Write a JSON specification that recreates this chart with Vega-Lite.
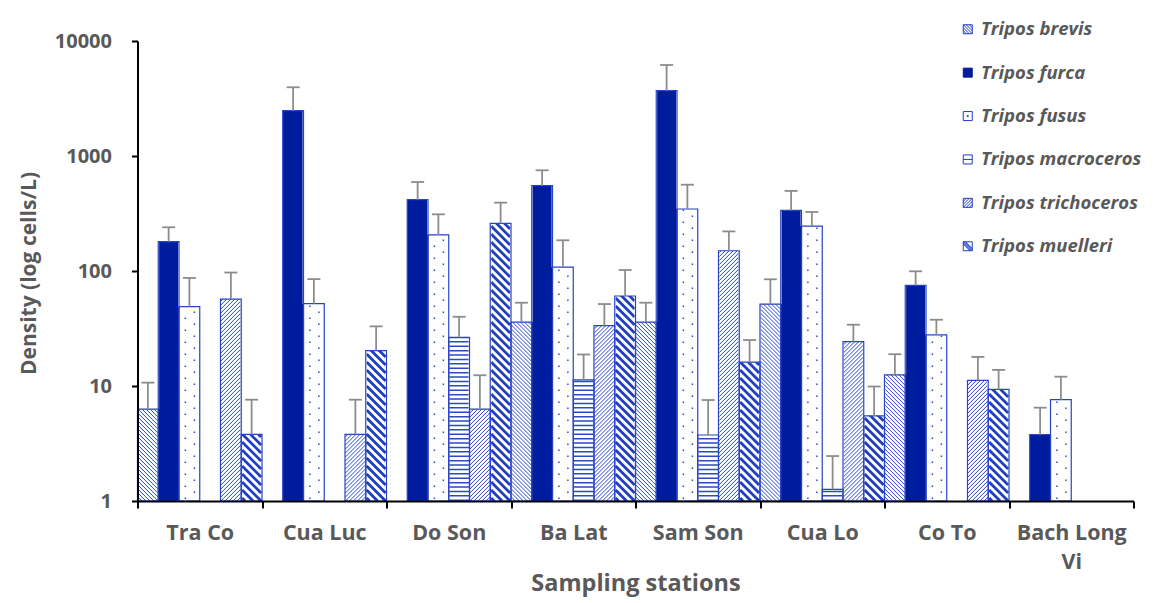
{
  "$schema": "https://vega.github.io/schema/vega-lite/v6.json",
  "autosize": {"type": "none"},
  "padding": {"left": 137.5, "top": 41, "right": 25.5, "bottom": 102},
  "width": 996,
  "height": 460,
  "background": "white",
  "config": {
    "view": {"stroke": null},
    "axis": {"domainColor": "#000000", "domainWidth": 2, "tickColor": "#000000", "tickWidth": 2, "labelColor": "#595959", "labelFont": "Open Sans", "labelFontWeight": "bold", "titleColor": "#595959", "titleFont": "Open Sans", "titleFontWeight": "bold", "grid": false}
  },
  "data": {"values": [
    {"station": "Tra Co", "species": "Tripos brevis", "value": 6.3, "upper": 10.7},
    {"station": "Tra Co", "species": "Tripos furca", "value": 180, "upper": 240},
    {"station": "Tra Co", "species": "Tripos fusus", "value": 49, "upper": 87},
    {"station": "Tra Co", "species": "Tripos trichoceros", "value": 57, "upper": 97},
    {"station": "Tra Co", "species": "Tripos muelleri", "value": 3.8, "upper": 7.6},
    {"station": "Cua Luc", "species": "Tripos furca", "value": 2480, "upper": 3960},
    {"station": "Cua Luc", "species": "Tripos fusus", "value": 52, "upper": 85},
    {"station": "Cua Luc", "species": "Tripos trichoceros", "value": 3.8, "upper": 7.6},
    {"station": "Cua Luc", "species": "Tripos muelleri", "value": 20.3, "upper": 33},
    {"station": "Do Son", "species": "Tripos furca", "value": 417, "upper": 594},
    {"station": "Do Son", "species": "Tripos fusus", "value": 206, "upper": 311},
    {"station": "Do Son", "species": "Tripos macroceros", "value": 26.5, "upper": 40},
    {"station": "Do Son", "species": "Tripos trichoceros", "value": 6.3, "upper": 12.4},
    {"station": "Do Son", "species": "Tripos muelleri", "value": 260, "upper": 393},
    {"station": "Ba Lat", "species": "Tripos brevis", "value": 36, "upper": 53},
    {"station": "Ba Lat", "species": "Tripos furca", "value": 552, "upper": 751},
    {"station": "Ba Lat", "species": "Tripos fusus", "value": 108, "upper": 185},
    {"station": "Ba Lat", "species": "Tripos macroceros", "value": 11.3, "upper": 18.8},
    {"station": "Ba Lat", "species": "Tripos trichoceros", "value": 33.5, "upper": 51.6},
    {"station": "Ba Lat", "species": "Tripos muelleri", "value": 60.6, "upper": 102},
    {"station": "Sam Son", "species": "Tripos brevis", "value": 36, "upper": 53},
    {"station": "Sam Son", "species": "Tripos furca", "value": 3700, "upper": 6185},
    {"station": "Sam Son", "species": "Tripos fusus", "value": 346, "upper": 563},
    {"station": "Sam Son", "species": "Tripos macroceros", "value": 3.75, "upper": 7.55},
    {"station": "Sam Son", "species": "Tripos trichoceros", "value": 150, "upper": 221},
    {"station": "Sam Son", "species": "Tripos muelleri", "value": 16.1, "upper": 25.1},
    {"station": "Cua Lo", "species": "Tripos brevis", "value": 51.6, "upper": 84.7},
    {"station": "Cua Lo", "species": "Tripos furca", "value": 337, "upper": 497},
    {"station": "Cua Lo", "species": "Tripos fusus", "value": 246, "upper": 326},
    {"station": "Cua Lo", "species": "Tripos macroceros", "value": 1.26, "upper": 2.46},
    {"station": "Cua Lo", "species": "Tripos trichoceros", "value": 24.3, "upper": 34.1},
    {"station": "Cua Lo", "species": "Tripos muelleri", "value": 5.5, "upper": 9.9},
    {"station": "Co To", "species": "Tripos brevis", "value": 12.5, "upper": 18.9},
    {"station": "Co To", "species": "Tripos furca", "value": 75, "upper": 99.4},
    {"station": "Co To", "species": "Tripos fusus", "value": 27.8, "upper": 37.7},
    {"station": "Co To", "species": "Tripos trichoceros", "value": 11.2, "upper": 17.9},
    {"station": "Co To", "species": "Tripos muelleri", "value": 9.36, "upper": 13.8},
    {"station": "Bach Long Vi", "species": "Tripos furca", "value": 3.77, "upper": 6.48},
    {"station": "Bach Long Vi", "species": "Tripos fusus", "value": 7.6, "upper": 12.05}
  ]},
  "encoding": {
    "x": {"field": "station", "type": "nominal",
      "sort": ["Tra Co", "Cua Luc", "Do Son", "Ba Lat", "Sam Son", "Cua Lo", "Co To", "Bach Long Vi"],
      "scale": {"domain": ["Tra Co", "Cua Luc", "Do Son", "Ba Lat", "Sam Son", "Cua Lo", "Co To", "Bach Long Vi"], "paddingInner": 0, "paddingOuter": 0},
      "axis": {"title": "Sampling stations", "zindex": 1, "tickBand": "extent", "tickSize": 7, "labelFontSize": 21.5, "labelPadding": 14, "labelAngle": 0, "labelLineHeight": 29,
        "labelExpr": "datum.label === 'Bach Long Vi' ? ['Bach Long', 'Vi'] : datum.label",
        "titleFontSize": 23.5, "titleY": 82, "titleBaseline": "middle"}},
    "xOffset": {"field": "species", "type": "nominal",
      "scale": {"domain": ["Tripos brevis", "Tripos furca", "Tripos fusus", "Tripos macroceros", "Tripos trichoceros", "Tripos muelleri"], "paddingInner": 0, "paddingOuter": 0}}
  },
  "layer": [
    {
      "mark": {"type": "bar", "strokeWidth": 0},
      "encoding": {
        "y": {"field": "value", "type": "quantitative",
          "scale": {"type": "log", "domain": [1, 10000], "nice": false},
          "axis": {"title": "Density (log cells/L)", "zindex": 1, "values": [1, 10, 100, 1000, 10000], "format": "d", "tickSize": 6, "labelFontSize": 20, "labelPadding": 20,
            "titleFontSize": 21, "titleX": -108, "titleY": 232, "titleAngle": 270, "titleBaseline": "middle", "titleAlign": "center"}},
        "y2": {"datum": 1},
        "fill": {"condition": {"test": "datum.species === 'Tripos furca'", "value": "#001C9E"}, "value": "#FFFFFF"}
      }
    },
    {
      "transform": [{"filter": "datum.species === 'Tripos brevis'"}],
      "mark": {"type": "point", "filled": false, "opacity": 1, "size": 4, "stroke": "#2A48C8", "strokeWidth": 1,
        "shape": "M-10,-16L6,0M-10,-12L2,0M-10,-8L-2,0M-10,-4L-6,0M-10,-20l20,20m-20,-24l20,20m-20,-24l20,20m-20,-24l20,20m-20,-24l20,20m-20,-24l20,20m-20,-24l20,20m-20,-24l20,20m-20,-24l20,20m-20,-24l20,20m-20,-24l20,20m-20,-24l20,20m-20,-24l20,20m-20,-24l20,20m-20,-24l20,20m-20,-24l20,20m-20,-24l20,20m-20,-24l20,20m-20,-24l20,20m-20,-24l20,20m-20,-24l20,20m-20,-24l20,20m-20,-24l20,20m-20,-24l20,20m-20,-24l20,20m-20,-24l20,20m-20,-24l20,20m-20,-24l20,20m-20,-24l20,20m-20,-24l20,20m-20,-24l20,20m-20,-24l20,20m-20,-24l20,20m-20,-24l20,20m-20,-24l20,20m-20,-24l20,20m-20,-24l20,20m-20,-24l20,20m-20,-24l20,20m-20,-24l20,20m-20,-24l20,20m-20,-24l20,20m-20,-24l20,20m-20,-24l20,20m-20,-24l20,20m-20,-24l20,20m-20,-24l20,20m-20,-24l20,20m-20,-24l20,20m-20,-24l20,20m-20,-24l20,20"},
      "encoding": {"y": {"datum": 1}}
    },
    {
      "transform": [{"filter": "datum.species === 'Tripos trichoceros'"}],
      "mark": {"type": "point", "filled": false, "opacity": 1, "size": 4, "stroke": "#2A48C8", "strokeWidth": 1,
        "shape": "M-6,0L10,-16M-2,0L10,-12M2,0L10,-8M6,0L10,-4M-10,0l20,-20m-20,16l20,-20m-20,16l20,-20m-20,16l20,-20m-20,16l20,-20m-20,16l20,-20m-20,16l20,-20m-20,16l20,-20m-20,16l20,-20m-20,16l20,-20m-20,16l20,-20m-20,16l20,-20m-20,16l20,-20m-20,16l20,-20m-20,16l20,-20m-20,16l20,-20m-20,16l20,-20m-20,16l20,-20m-20,16l20,-20m-20,16l20,-20m-20,16l20,-20m-20,16l20,-20m-20,16l20,-20m-20,16l20,-20m-20,16l20,-20m-20,16l20,-20m-20,16l20,-20m-20,16l20,-20m-20,16l20,-20m-20,16l20,-20m-20,16l20,-20m-20,16l20,-20m-20,16l20,-20m-20,16l20,-20m-20,16l20,-20m-20,16l20,-20m-20,16l20,-20m-20,16l20,-20m-20,16l20,-20m-20,16l20,-20m-20,16l20,-20m-20,16l20,-20m-20,16l20,-20m-20,16l20,-20m-20,16l20,-20m-20,16l20,-20m-20,16l20,-20m-20,16l20,-20m-20,16l20,-20m-20,16l20,-20m-20,16l20,-20m-20,16l20,-20m-20,16l20,-20m-20,16l20,-20m-20,16l20,-20m-20,16l20,-20m-20,16l20,-20m-20,16l20,-20m-20,16l20,-20m-20,16l20,-20m-20,16l20,-20m-20,16l20,-20m-20,16l20,-20m-20,16l20,-20"},
      "encoding": {"y": {"datum": 1}}
    },
    {
      "transform": [{"filter": "datum.species === 'Tripos muelleri'"}],
      "mark": {"type": "point", "filled": false, "opacity": 1, "size": 4, "stroke": "#1F3FC0", "strokeWidth": 2.8,
        "shape": "M-9.5,-11L1.5,0M-9.5,-3L-6.5,0M-9.5,-19l19,19m-19,-27l19,19m-19,-27l19,19m-19,-27l19,19m-19,-27l19,19m-19,-27l19,19m-19,-27l19,19m-19,-27l19,19m-19,-27l19,19m-19,-27l19,19m-19,-27l19,19m-19,-27l19,19m-19,-27l19,19m-19,-27l19,19m-19,-27l19,19m-19,-27l19,19m-19,-27l19,19m-19,-27l19,19m-19,-27l19,19m-19,-27l19,19m-19,-27l19,19m-19,-27l19,19m-19,-27l19,19m-19,-27l19,19m-19,-27l19,19m-19,-27l19,19m-19,-27l19,19m-19,-27l19,19m-19,-27l19,19m-19,-27l19,19m-19,-27l19,19m-19,-27l19,19m-19,-27l19,19m-19,-27l19,19m-19,-27l19,19m-19,-27l19,19"},
      "encoding": {"y": {"datum": 1}}
    },
    {
      "transform": [{"filter": "datum.species === 'Tripos macroceros'"}],
      "mark": {"type": "point", "filled": false, "opacity": 1, "size": 4, "stroke": "#2A48C8", "strokeWidth": 19.6, "strokeDash": [1.5, 2.9], "strokeCap": "butt",
        "shape": "M0,0V-175"},
      "encoding": {"y": {"datum": 1}}
    },
    {
      "transform": [{"filter": "datum.species === 'Tripos fusus'"}],
      "mark": {"type": "point", "filled": false, "opacity": 1, "size": 4, "stroke": "#2B4BD0", "strokeWidth": 1.5, "strokeDash": [1.5, 10.5], "strokeCap": "butt",
        "shape": "M-4,-2V-300M5,-8V-300"},
      "encoding": {"y": {"datum": 1}}
    },
    {
      "transform": [{"filter": "datum.species !== 'Tripos furca'"}],
      "mark": {"type": "bar", "fill": "white", "strokeWidth": 0, "width": 22.5},
      "encoding": {"y": {"field": "value", "type": "quantitative"}, "y2": {"datum": 10000}}
    },
    {
      "mark": {"type": "bar", "filled": false, "stroke": "#2742C4", "strokeWidth": 1.2},
      "encoding": {"y": {"field": "value", "type": "quantitative"}, "y2": {"datum": 1}}
    },
    {
      "mark": {"type": "rule", "stroke": "#8C8C8C", "strokeWidth": 1.8},
      "encoding": {"y": {"field": "value", "type": "quantitative"}, "y2": {"field": "upper"}}
    },
    {
      "mark": {"type": "tick", "color": "#8C8C8C", "thickness": 1.8, "size": 13, "opacity": 1},
      "encoding": {"y": {"field": "upper", "type": "quantitative"}}
    },
    {
      "transform": [{"filter": "false"}],
      "mark": {"type": "point", "filled": true, "opacity": 1, "strokeWidth": 1},
      "encoding": {
        "y": {"field": "value", "type": "quantitative"},
        "fill": {"field": "species", "type": "nominal",
          "scale": {"domain": ["Tripos brevis", "Tripos furca", "Tripos fusus", "Tripos macroceros", "Tripos trichoceros", "Tripos muelleri"],
            "range": ["#FFFFFF", "#001C9E", "#FFFFFF", "#FFFFFF", "#FFFFFF", "#FFFFFF"]},
          "legend": {"title": null, "orient": "none", "legendX": 821, "legendY": -21, "direction": "vertical", "symbolSize": 81, "symbolStrokeWidth": 1, "labelLimit": 400,
            "labelFont": "Open Sans", "labelFontSize": 18.5, "labelFontStyle": "italic", "labelFontWeight": "bold", "labelColor": "#595959", "labelOffset": 4, "rowPadding": 24.4, "padding": 0}},
        "stroke": {"field": "species", "type": "nominal",
          "scale": {"domain": ["Tripos brevis", "Tripos furca", "Tripos fusus", "Tripos macroceros", "Tripos trichoceros", "Tripos muelleri"],
            "range": ["#1F3FC0", "#001C9E", "#1F3FC0", "#1F3FC0", "#1F3FC0", "#1F3FC0"]},
          "legend": {"title": null, "orient": "none", "legendX": 821, "legendY": -21, "direction": "vertical", "symbolSize": 81, "symbolStrokeWidth": 1, "labelLimit": 400,
            "labelFont": "Open Sans", "labelFontSize": 18.5, "labelFontStyle": "italic", "labelFontWeight": "bold", "labelColor": "#595959", "labelOffset": 4, "rowPadding": 24.4, "padding": 0}},
        "shape": {"field": "species", "type": "nominal",
          "scale": {"domain": ["Tripos brevis", "Tripos furca", "Tripos fusus", "Tripos macroceros", "Tripos trichoceros", "Tripos muelleri"],
            "range": [
              "M-1,-1H1V1H-1ZM-1,-1L1,1M-1,-0.33L0.33,1M-1,0.33L-0.33,1M-0.33,-1L1,0.33M0.33,-1L1,-0.33",
              "M-1,-1H1V1H-1Z",
              "M-1,-1H1V1H-1ZM-0.12,-0.12H0.12V0.12H-0.12Z",
              "M-1,-1H1V1H-1ZM-1,0H1",
              "M-1,-1H1V1H-1ZM-1,1L1,-1M-1,0.33L0.33,-1M-1,-0.33L-0.33,-1M-0.33,1L1,-0.33M0.33,1L1,0.33",
              "M-1,-1H1V1H-1ZM-1,-1L1,1M-1,-0.75L0.75,1M-0.75,-1L1,0.75M-1,-0.5L0.5,1M-0.5,-1L1,0.5"
            ]},
          "legend": {"title": null, "orient": "none", "legendX": 821, "legendY": -21, "direction": "vertical", "symbolSize": 81, "symbolStrokeWidth": 1, "labelLimit": 400,
            "labelFont": "Open Sans", "labelFontSize": 18.5, "labelFontStyle": "italic", "labelFontWeight": "bold", "labelColor": "#595959", "labelOffset": 4, "rowPadding": 24.4, "padding": 0}}
      }
    }
  ]
}
